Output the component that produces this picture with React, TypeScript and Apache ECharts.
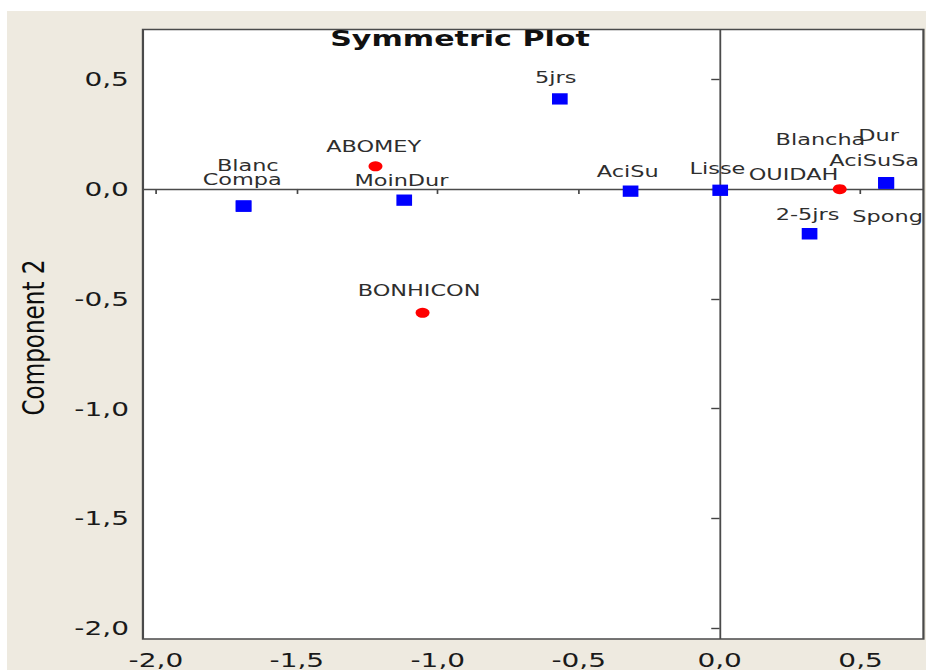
import { useEffect, useRef } from 'react';
import * as echarts from 'echarts';

// Axis ticks (Component 1 on x, Component 2 on y)
const xTicks = [-2, -1.5, -1, -0.5, 0, 0.5];
const yTicks = [-2, -1.5, -1, -0.5, 0, 0.5];
const xRange = [-2.046, 0.723];
const yRange = [-2.049, 0.726];

// Column categories (blue squares)
const squareNames = ['Blanc', 'Compa', 'MoinDur', '5jrs', 'AciSu', 'Lisse', '2-5jrs', 'Blancha', 'Dur', 'AciSuSa', 'Spong'];
const squareX = [-1.689, -1.689, -1.119, -0.567, -0.316, 0.002, 0.319, 0.591, 0.591, 0.591, 0.591];
const squareY = [-0.078, -0.078, -0.051, 0.41, -0.01, -0.006, -0.204, 0.028, 0.028, 0.028, 0.028];

// Row categories (red dots)
const circleNames = ['ABOMEY', 'BONHICON', 'OUIDAH'];
const circleX = [-1.221, -1.054, 0.426];
const circleY = [0.103, -0.564, -0.001];

// Label placement relative to each marker centre (px, before horizontal stretch)
const labelOffsets: Record<string, [number, number]> = {
  Blanc: [3, -40],
  Compa: [-1, -26],
  MoinDur: [-2, -20],
  '5jrs': [-3, -21.5],
  AciSu: [-2, -19],
  Lisse: [-2, -22],
  '2-5jrs': [-1.5, -19],
  Blancha: [-47, -43],
  Dur: [-5.5, -47],
  AciSuSa: [-8.6, -22.5],
  Spong: [1, 34],
  ABOMEY: [-1.3, -20],
  BONHICON: [-2.5, -22],
  OUIDAH: [-33, -14.7],
};

const STRETCH = 1.4;
const FRAME_W = 919;
const FRAME_H = 659;
const CHART_W = FRAME_W / STRETCH;
const BG = '#eeeae0';
const FONT = '"DejaVu Sans", Verdana, sans-serif';

const fmt = (v: number) => v.toFixed(1).replace('.', ',');

const points = (names: string[], xs: number[], ys: number[]) =>
  names.map((name, i) => ({
    name,
    value: [xs[i], ys[i]],
    label: { offset: labelOffsets[name] || [0, -20] },
  }));

export default function App() {
  const ref = useRef<HTMLDivElement>(null);

  useEffect(() => {
    if (!ref.current) return;
    const chart = echarts.init(ref.current, undefined, { renderer: 'svg' });

    const pointLabel = {
      show: true,
      position: 'inside' as const,
      formatter: '{b}',
      color: '#2e2e2e',
      fontFamily: FONT,
      fontSize: 16,
    };

    chart.setOption({
      animation: false,
      backgroundColor: BG,
      grid: {
        left: 97.1,
        right: 1.4,
        top: 18.5,
        bottom: 29,
        show: true,
        backgroundColor: '#ffffff',
        borderColor: '#4a4a4a',
        borderWidth: 1.6,
      },
      xAxis: {
        type: 'value',
        min: xRange[0],
        max: xRange[1],
        splitLine: { show: false },
        axisLine: { show: false },
        axisTick: { show: true, length: 5, customValues: xTicks, lineStyle: { color: '#444', width: 1.2 } },
        axisLabel: {
          customValues: xTicks,
          formatter: fmt,
          margin: 11,
          color: '#1a1a1a',
          fontFamily: FONT,
          fontSize: 20,
        },
      },
      yAxis: {
        type: 'value',
        min: yRange[0],
        max: yRange[1],
        splitLine: { show: false },
        axisLine: { show: false },
        axisTick: { show: true, length: 6, customValues: yTicks, lineStyle: { color: '#444', width: 1.4 } },
        axisLabel: {
          customValues: yTicks,
          formatter: fmt,
          margin: 10,
          color: '#1a1a1a',
          fontFamily: FONT,
          fontSize: 20,
        },
      },
      graphic: [
        {
          type: 'text',
          x: (460 - 7) / STRETCH,
          y: 28,
          z: 100,
          style: {
            text: 'Symmetric Plot',
            fill: '#111111',
            font: `bold 21.5px ${FONT}`,
            textAlign: 'center',
            textVerticalAlign: 'middle',
          },
        },
        {
          type: 'text',
          x: (33 - 7) / STRETCH,
          y: 326.5,
          rotation: Math.PI / 2,
          scaleX: 1.05,
          style: {
            text: 'Component 2',
            fill: '#0d0d0d',
            font: `22px ${FONT}`,
            textAlign: 'center',
            textVerticalAlign: 'middle',
          },
        },
      ],
      series: [
        {
          name: 'Colonnes',
          type: 'scatter',
          symbol: 'rect',
          symbolSize: [11.2, 11.3],
          itemStyle: { color: '#0000ff', opacity: 1 },
          label: pointLabel,
          data: points(squareNames, squareX, squareY),
          markLine: {
            silent: true,
            symbol: ['none', 'none'],
            label: { show: false },
            lineStyle: { color: '#4a4a4a', width: 1.3, type: 'solid' },
            data: [{ xAxis: 0 }, { yAxis: 0 }],
            z: 1,
          },
          z: 3,
        },
        {
          name: 'Lignes',
          type: 'scatter',
          symbol: 'circle',
          symbolSize: 10,
          itemStyle: { color: '#ff0000', opacity: 1 },
          label: pointLabel,
          data: points(circleNames, circleX, circleY),
          z: 3,
        },
      ],
    });

    return () => chart.dispose();
  }, []);

  return (
    <div
      style={{
        position: 'absolute',
        left: 7,
        top: 11,
        width: FRAME_W,
        height: FRAME_H,
        overflow: 'hidden',
        background: BG,
      }}
    >
      <div
        ref={ref}
        style={{
          width: CHART_W,
          height: FRAME_H,
          transform: `scaleX(${STRETCH})`,
          transformOrigin: '0 0',
        }}
      />
    </div>
  );
}
